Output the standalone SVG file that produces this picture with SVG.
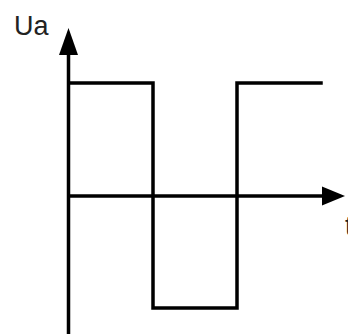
<svg xmlns="http://www.w3.org/2000/svg" width="348" height="334" viewBox="0 0 348 334">
<defs>
<style>
.ax{stroke:#000;stroke-width:3.5;fill:none}
.sig{stroke:#000;stroke-width:3.5;fill:none;stroke-linejoin:miter;stroke-linecap:square}
.lbl{font-family:"Liberation Sans",Arial,sans-serif;font-size:27px;fill:#222}
</style>
</defs>
<g id="connectors">
<line class="ax" x1="68.5" y1="334" x2="68.5" y2="50"/>
<polygon points="68.5,28 59,55 78,55" fill="#000"/>
<line class="ax" x1="68.5" y1="196" x2="326" y2="196"/>
<polygon points="345,196 322,186.5 322,205.5" fill="#000"/>
</g>
<g id="signal">
<polyline class="sig" points="70,83 153,83 153,308 237,308 237,83 321,83"/>
</g>
<g id="label-ua"><text class="lbl" x="14" y="35">Ua</text></g>
<g id="label-t"><text class="lbl" x="345" y="235">t</text></g>
</svg>
